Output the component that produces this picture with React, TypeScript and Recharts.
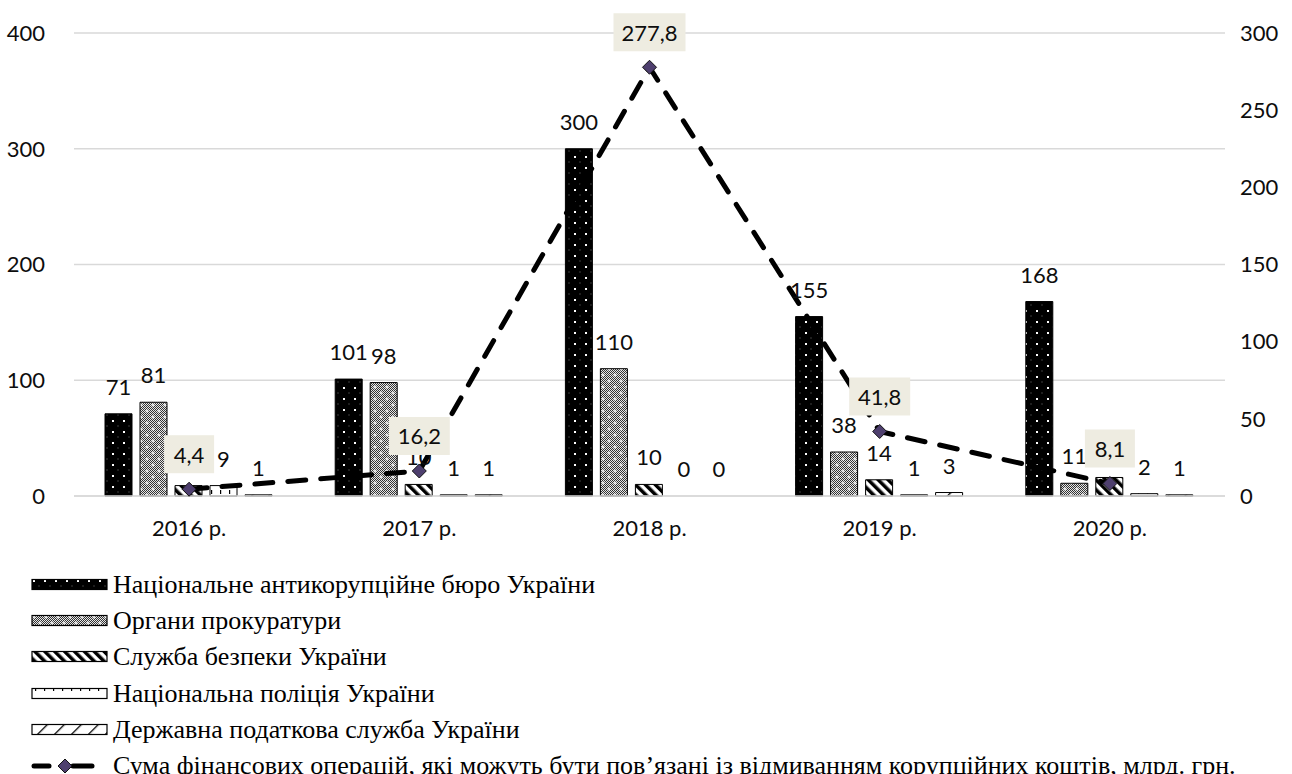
import React from "react";
import {
  ComposedChart, Bar, Line, XAxis, YAxis, CartesianGrid, LabelList, Cell
} from "recharts";

const categories = ["2016 р.", "2017 р.", "2018 р.", "2019 р.", "2020 р."];
const nabu = [71, 101, 300, 155, 168];
const prosecution = [81, 98, 110, 38, 11];
const sbu = [9, 10, 10, 14, 16];
const police = [9, 1, 0, 1, 2];
const tax = [1, 1, 0, 3, 1];
const sums = [4.4, 16.2, 277.8, 41.8, 8.1];

const leftTicks = [0, 100, 200, 300, 400];
const rightTicks = [0, 50, 100, 150, 200, 250, 300];

const SERIES = [
  { key: "nabu", name: "Національне антикорупційне бюро України", fill: "url(#pNabu)" },
  { key: "prosecution", name: "Органи прокуратури", fill: "url(#pPros)" },
  { key: "sbu", name: "Служба безпеки України", fill: "url(#pSbu)" },
  { key: "police", name: "Національна поліція України", fill: "url(#pPolice)" },
  { key: "tax", name: "Державна податкова служба України", fill: "url(#pTax)" },
];
const LINE_NAME =
  "Сума фінансових операцій, які можуть бути пов’язані із відмиванням корупційних коштів, млрд. грн.";

const data = categories.map((c, i) => ({
  year: c,
  nabu: nabu[i],
  prosecution: prosecution[i],
  sbu: sbu[i],
  police: police[i],
  tax: tax[i],
  sum: sums[i],
}));

const FONT = "Lato, 'Open Sans', sans-serif";
const TXT = "#0d0d0d";

const Patterns = () => (
  <defs>
    <pattern id="pNabu" width="11" height="11" patternUnits="userSpaceOnUse">
      <rect width="11" height="11" fill="#000" />
      <rect x="2" y="2" width="2" height="2" fill="#fff" />
      <rect x="7.5" y="7.5" width="1" height="1" fill="#777" />
    </pattern>
    <pattern id="pCheck" width="2" height="2" patternUnits="userSpaceOnUse">
      <rect width="2" height="2" fill="#e6e6e6" />
      <rect width="1" height="1" fill="#333" />
      <rect x="1" y="1" width="1" height="1" fill="#333" />
    </pattern>
    <pattern id="pPros" width="12" height="12" patternUnits="userSpaceOnUse">
      <rect width="12" height="12" fill="url(#pCheck)" />
      <path d="M3 1.5 V4.5 M1.5 3 H4.5 M9 7.5 V10.5 M7.5 9 H10.5" stroke="#fff" strokeWidth="1" />
    </pattern>
    <pattern id="pSbu" width="7" height="7" patternUnits="userSpaceOnUse" patternTransform="rotate(-45)">
      <rect width="7" height="7" fill="#fff" />
      <rect width="3.5" height="7" fill="#000" />
    </pattern>
    <pattern id="pPolice" width="9" height="14" patternUnits="userSpaceOnUse">
      <rect width="9" height="14" fill="#fff" />
      <rect x="4" y="0" width="1.2" height="4" fill="#000" />
    </pattern>
    <pattern id="pTax" width="12" height="12" patternUnits="userSpaceOnUse" patternTransform="rotate(45)">
      <rect width="12" height="12" fill="#fff" />
      <rect width="1.3" height="12" fill="#000" />
    </pattern>
  </defs>
);

const Diamond = (props: any) => {
  const { cx, cy } = props;
  if (cx == null || cy == null) return null;
  const r = 7;
  return (
    <path
      d={`M${cx} ${cy - r} L${cx + r} ${cy} L${cx} ${cy + r} L${cx - r} ${cy} Z`}
      fill="#4e3f6e"
      stroke="#111"
      strokeWidth={1}
    />
  );
};

const SumLabel = (props: any) => {
  const { x, y, value } = props;
  if (x == null || y == null) return null;
  const text = String(value).replace(".", ",");
  const w = text.length * 11 + 17;
  const h = 38;
  const cy = y - 35;
  return (
    <g>
      <rect x={x - w / 2} y={cy - h / 2} width={w} height={h} fill="#eeece1" />
      <text
        x={x}
        y={cy}
        textAnchor="middle"
        dominantBaseline="central"
        fontFamily={FONT}
        fontSize={22}
        fill={TXT}
      >
        {text}
      </text>
    </g>
  );
};

const LegendSwatch = ({ fill }: { fill: string }) => (
  <svg width={78} height={14} style={{ display: "block" }}>
    <rect x={1} y={1.5} width={75} height={10} fill={fill} stroke="#000" strokeWidth={1.2} />
  </svg>
);

const LineSwatch = () => (
  <svg width={78} height={16} style={{ display: "block" }}>
    <line x1={3} y1={8} x2={18} y2={8} stroke="#000" strokeWidth={5} strokeLinecap="round" />
    <line x1={42} y1={8} x2={61} y2={8} stroke="#000" strokeWidth={5} strokeLinecap="round" />
    <path d="M34 1 L41 8 L34 15 L27 8 Z" fill="#4e3f6e" stroke="#111" strokeWidth={1} />
  </svg>
);

// tiny height for zero-valued bars so their "0" labels still get drawn
const zeroMin = (v: any) => (v === 0 ? 0.01 : 0);

export default function App() {
  const legendRows = [
    ...SERIES.map((s) => ({ name: s.name, swatch: <LegendSwatch fill={s.fill} /> })),
    { name: LINE_NAME, swatch: <LineSwatch /> },
  ];
  const rowY = [585, 621, 657, 694, 730, 766];

  return (
    <div style={{ position: "absolute", left: 0, top: 0, width: 1292, height: 774, background: "#fff", overflow: "hidden" }}>
      <ComposedChart
        width={1292}
        height={560}
        data={data}
        margin={{ top: 33, right: 7, left: 14, bottom: 24 }}
        barCategoryGap={31}
        barGap={8}
      >
        <Patterns />
        <CartesianGrid vertical={false} stroke="#d9d9d9" strokeWidth={1.5} yAxisId="left" />
        <XAxis
          dataKey="year"
          axisLine={{ stroke: "#d9d9d9", strokeWidth: 1.5 }}
          tickLine={false}
          tickSize={0}
          tickMargin={24}
          height={40}
          tick={{ fill: TXT, fontFamily: FONT, fontSize: 22 }}
        />
        <YAxis
          yAxisId="left"
          domain={[0, 400]}
          ticks={leftTicks}
          axisLine={false}
          tickLine={false}
          tickSize={0}
          tickMargin={29}
          width={60}
          tick={{ fill: TXT, fontFamily: FONT, fontSize: 22 }}
        />
        <YAxis
          yAxisId="right"
          orientation="right"
          domain={[0, 300]}
          ticks={rightTicks}
          axisLine={false}
          tickLine={false}
          tickSize={0}
          tickMargin={15}
          width={60}
          tick={{ fill: TXT, fontFamily: FONT, fontSize: 22, textAnchor: "start" }}
        />
        {SERIES.map((s) => (
          <Bar
            key={s.key}
            yAxisId="left"
            dataKey={s.key}
            name={s.name}
            fill={s.fill}
            stroke="#000"
            strokeWidth={1}
            minPointSize={zeroMin}
            isAnimationActive={false}
          >
            {data.map((d, i) => (
              <Cell key={i} stroke={(d as any)[s.key] === 0 ? "none" : "#000"} />
            ))}
            <LabelList
              dataKey={s.key}
              position="top"
              offset={19}
              fill={TXT}
              fontFamily={FONT}
              fontSize={22}
            />
          </Bar>
        ))}
        <Line
          yAxisId="right"
          dataKey="sum"
          name={LINE_NAME}
          type="linear"
          stroke="#000"
          strokeWidth={5}
          strokeDasharray="18 15"
          strokeLinecap="round"
          dot={<Diamond />}
          activeDot={false}
          isAnimationActive={false}
        >
          <LabelList dataKey="sum" content={<SumLabel />} />
        </Line>
      </ComposedChart>

      {legendRows.map((r, i) => (
        <div
          key={i}
          style={{
            position: "absolute",
            left: 31,
            top: rowY[i] - 15,
            height: 30,
            display: "flex",
            alignItems: "center",
            whiteSpace: "nowrap",
            fontFamily: "'Liberation Serif', 'Times New Roman', serif",
            fontSize: 26,
            color: "#000",
          }}
        >
          {r.swatch}
          <span style={{ marginLeft: 4 }}>{r.name}</span>
        </div>
      ))}
    </div>
  );
}
